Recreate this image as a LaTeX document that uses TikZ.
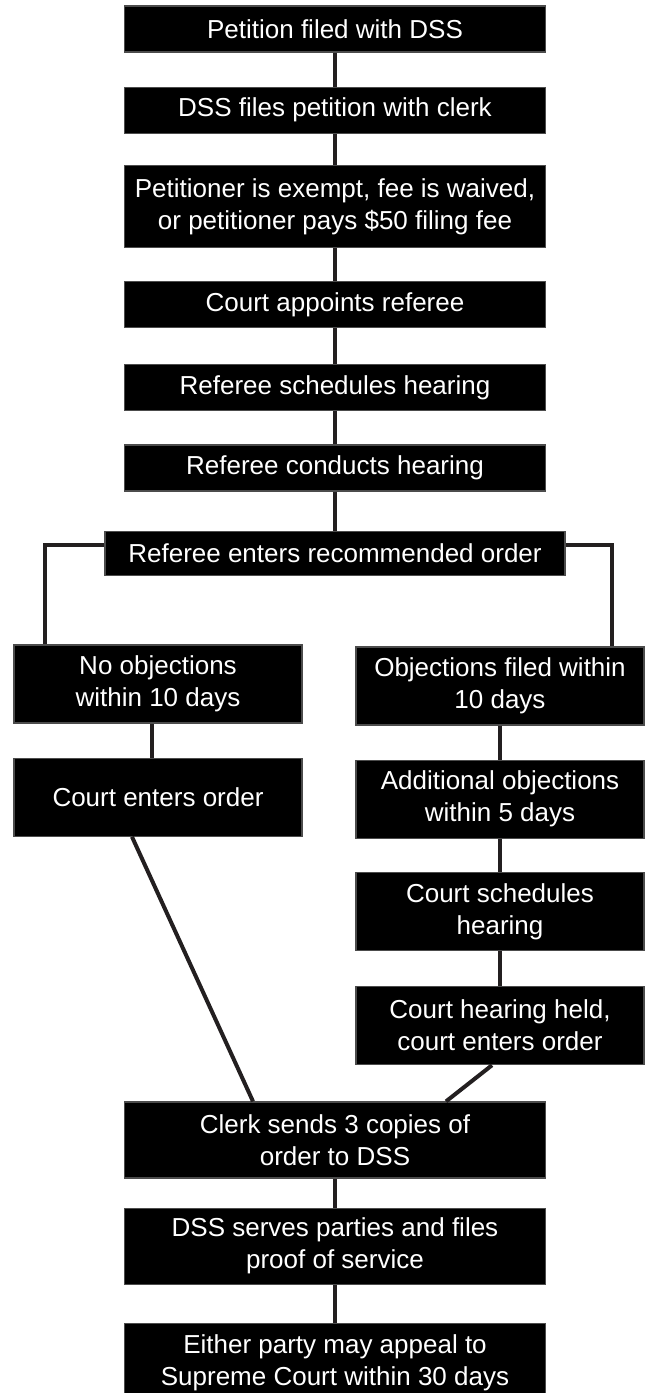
\documentclass[tikz,border=0pt]{standalone}
\usepackage{fontspec}
\setmainfont{Liberation Sans}
\usetikzlibrary{positioning, calc}
\definecolor{linkgray}{HTML}{231F20}

\begin{document}
\begin{tikzpicture}[
    x=1pt, y=1pt,
    box/.style={rectangle, draw=black!70, line width=1.2pt, fill=black, text=white, minimum width=421pt, minimum height=46pt, align=center, inner sep=3pt, font=\fontsize{26}{32}\selectfont},
    tall/.style={minimum height=78pt},
    side/.style={box, tall, minimum width=288pt},
    link/.style={draw=linkgray, line width=4pt}
]
\useasboundingbox (0,0) rectangle (648,-1393);

\node[box] (filed) at (335,-29) {Petition filed with DSS};
\node[box, below=34pt of filed] (withclerk) {DSS files petition with clerk};
\node[box, minimum height=82pt, below=31pt of withclerk] (fee) {Petitioner is exempt, fee is waived,\\or petitioner pays \$50 filing fee};
\node[box, below=33pt of fee] (appoint) {Court appoints referee};
\node[box, below=36pt of appoint] (schedref) {Referee schedules hearing};
\node[box, below=33pt of schedref] (conduct) {Referee conducts hearing};
\node[box, minimum width=460pt, minimum height=44pt, below=39pt of conduct] (recorder) {Referee enters recommended order};

\node[side] (noobj) at (158,-684) {No objections\\within 10 days};
\node[side, below=34pt of noobj] (courtorder) {Court enters order};
\node[side] (objfiled) at (500,-686) {Objections filed within\\10 days};
\node[side, below=34pt of objfiled] (addobj) {Additional objections\\within 5 days};
\node[side, below=33pt of addobj] (courtsched) {Court schedules\\hearing};
\node[side, below=35pt of courtsched] (held) {Court hearing held,\\court enters order};

\node[box, minimum height=76pt] (copies) at (335,-1140) {Clerk sends 3 copies of\\order to DSS};
\node[box, minimum height=76pt, below=29pt of copies] (serves) {DSS serves parties and files\\proof of service};
\node[box, tall, below=38pt of serves] (appeal) {Either party may appeal to\\Supreme Court within 30 days};

\draw[link] (filed) -- (withclerk);
\draw[link] (withclerk) -- (fee);
\draw[link] (fee) -- (appoint);
\draw[link] (appoint) -- (schedref);
\draw[link] (schedref) -- (conduct);
\draw[link] (conduct) -- (recorder);
\draw[link] ([yshift=8pt]recorder.west) -| ([xshift=32pt]noobj.north west);
\draw[link] ([yshift=8pt]recorder.east) -| ([xshift=-33pt]objfiled.north east);
\draw[link] ([xshift=-6pt]noobj.south) -- ([xshift=-6pt]courtorder.north);
\draw[link] (objfiled) -- (addobj);
\draw[link] (addobj) -- (courtsched);
\draw[link] (courtsched) -- (held);
\draw[link] ([xshift=-26pt]courtorder.south) -- ([xshift=-82pt]copies.north);
\draw[link] ([xshift=-8pt]held.south) -- ([xshift=111pt]copies.north);
\draw[link] (copies) -- (serves);
\draw[link] (serves) -- (appeal);

\end{tikzpicture}
\end{document}
